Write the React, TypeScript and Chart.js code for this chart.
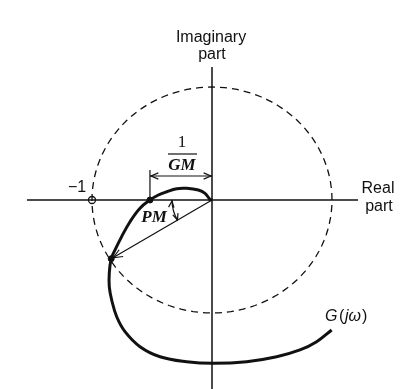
import React, { useEffect, useRef } from "react";
import { Chart, registerables } from "chart.js";

Chart.register(...registerables);

// G(jw) Nyquist curve (real, imaginary)
const curveRe = [0, -0.017, -0.058, -0.114, -0.211, -0.294, -0.378, -0.447, -0.517, -0.6, -0.683, -0.753, -0.808, -0.84, -0.856, -0.856, -0.836, -0.794, -0.725, -0.6, -0.433, -0.211, 0.011, 0.289, 0.539, 0.733, 0.872, 0.997];
const curveIm = [0, 0.006, 0.059, 0.088, 0.103, 0.1, 0.073, 0.044, 0, -0.073, -0.192, -0.324, -0.442, -0.52, -0.649, -0.767, -0.885, -1.033, -1.165, -1.298, -1.387, -1.431, -1.445, -1.431, -1.387, -1.327, -1.254, -1.15];

// key points
const minusOne = { x: -1, y: 0 };
const gmPoint = { x: -0.517, y: 0 };
const pmPoint = { x: -0.84, y: -0.52 };

// axis extents
const realAxis = [-1.542, 1.217];
const imagAxis = [1.177, -1.7];

// unit circle angles (degrees)
const circleAngles = Array.from({ length: 121 }, (_, i) => i * 3);

const BLACK = "#111";

export default function App() {
  const ref = useRef<HTMLCanvasElement | null>(null);

  useEffect(() => {
    document.body.style.margin = "0";
    const canvas = ref.current!;
    const curve = curveRe.map((x, i) => ({ x, y: curveIm[i] }));
    const circle = circleAngles.map((a) => ({
      x: Math.cos((a * Math.PI) / 180),
      y: Math.sin((a * Math.PI) / 180),
    }));

    const arrowHead = (ctx: CanvasRenderingContext2D, tx: number, ty: number, fx: number, fy: number, size: number) => {
      const ang = Math.atan2(ty - fy, tx - fx);
      ctx.beginPath();
      ctx.moveTo(tx - size * Math.cos(ang - 0.4), ty - size * Math.sin(ang - 0.4));
      ctx.lineTo(tx, ty);
      ctx.lineTo(tx - size * Math.cos(ang + 0.4), ty - size * Math.sin(ang + 0.4));
      ctx.stroke();
    };

    const annot = {
      id: "annot",
      afterDatasetsDraw(chart: any) {
        const ctx: CanvasRenderingContext2D = chart.ctx;
        const xs = chart.scales.x;
        const ys = chart.scales.y;
        const px = (v: number) => xs.getPixelForValue(v);
        const py = (v: number) => ys.getPixelForValue(v);
        const ox = px(0);
        const oy = py(0);
        ctx.save();
        ctx.strokeStyle = BLACK;
        ctx.fillStyle = BLACK;
        ctx.lineWidth = 1.2;

        // PM arrow head (origin -> PM point)
        const pmx = px(pmPoint.x);
        const pmy = py(pmPoint.y);
        arrowHead(ctx, pmx + 2, pmy - 1, ox, oy, 10);

        // GM bracket
        const gx = px(gmPoint.x);
        const barTop = oy - 30;
        const arrY = oy - 24;
        ctx.beginPath();
        ctx.moveTo(gx, oy);
        ctx.lineTo(gx, barTop);
        ctx.stroke();
        ctx.beginPath();
        ctx.moveTo(gx, arrY);
        ctx.lineTo(ox, arrY);
        ctx.stroke();
        arrowHead(ctx, gx + 1, arrY, ox, arrY, 8);
        arrowHead(ctx, ox - 1, arrY, gx, arrY, 8);

        // PM angle arc
        const lineAng = Math.atan2(pmy - oy, pmx - ox);
        const r = 40;
        ctx.beginPath();
        ctx.arc(ox, oy, r, lineAng, Math.PI);
        ctx.stroke();
        const topX = ox - r, topY = oy;
        arrowHead(ctx, topX, topY + 1, topX - 1, topY + 10, 7);
        const botX = ox + r * Math.cos(lineAng), botY = oy + r * Math.sin(lineAng);
        arrowHead(ctx, botX, botY, botX - 3, botY - 9, 7);

        // Text labels
        ctx.textAlign = "center";
        ctx.textBaseline = "middle";
        ctx.font = "16px 'Liberation Sans', Arial, sans-serif";
        ctx.fillText("Imaginary", ox - 1, 38);
        ctx.fillText("part", ox, 55);
        ctx.fillText("Real", 378, 189);
        ctx.fillText("part", 379, 207);
        ctx.fillText("\u22121", px(minusOne.x) - 15, oy - 12);

        // 1/GM fraction
        ctx.font = "17px 'Liberation Serif', 'Times New Roman', serif";
        ctx.fillText("1", 182, 143);
        ctx.beginPath();
        ctx.moveTo(168, 154);
        ctx.lineTo(197, 154);
        ctx.stroke();
        ctx.font = "italic bold 17px 'Liberation Serif', 'Times New Roman', serif";
        ctx.fillText("GM", 182, 166);
        ctx.fillText("PM", 154, 218);

        // G(jw)
        ctx.textAlign = "left";
        ctx.font = "italic 16px 'Liberation Sans', Arial, sans-serif";
        ctx.fillText("G", 325, 317);
        ctx.font = "16px 'Liberation Sans', Arial, sans-serif";
        ctx.fillText("(", 339, 317);
        ctx.font = "italic 16px 'Liberation Sans', Arial, sans-serif";
        ctx.fillText("j\u03c9", 345, 317);
        ctx.font = "16px 'Liberation Sans', Arial, sans-serif";
        ctx.fillText(")", 362, 317);
        ctx.restore();
      },
    };

    const chart = new Chart(canvas, {
      type: "scatter",
      data: {
        datasets: [
          {
            data: [{ x: realAxis[0], y: 0 }, { x: realAxis[1], y: 0 }],
            showLine: true,
            borderColor: BLACK,
            borderWidth: 1.5,
            pointRadius: 0,
          },
          {
            data: [{ x: 0, y: imagAxis[0] }, { x: 0, y: imagAxis[1] }],
            showLine: true,
            borderColor: BLACK,
            borderWidth: 1.5,
            pointRadius: 0,
          },
          {
            data: circle,
            showLine: true,
            borderColor: BLACK,
            borderWidth: 1.3,
            borderDash: [7, 5],
            pointRadius: 0,
          },
          {
            data: [{ x: 0, y: 0 }, pmPoint],
            showLine: true,
            borderColor: BLACK,
            borderWidth: 1.2,
            pointRadius: 0,
          },
          {
            data: curve,
            showLine: true,
            borderColor: BLACK,
            borderWidth: 3,
            tension: 0.4,
            pointRadius: 0,
          },
          {
            data: [gmPoint, pmPoint],
            showLine: false,
            pointRadius: 3,
            backgroundColor: BLACK,
            borderColor: BLACK,
          },
          {
            data: [minusOne],
            showLine: false,
            pointRadius: 3.5,
            backgroundColor: "#fff",
            borderColor: BLACK,
            borderWidth: 1.3,
          },
        ],
      },
      options: {
        responsive: false,
        animation: false,
        layout: { padding: 0, autoPadding: false },
        plugins: { legend: { display: false }, tooltip: { enabled: false } },
        scales: {
          x: { type: "linear", display: false, min: -212 / 120, max: 198 / 120 },
          y: { type: "linear", display: false, min: -189 / 113, max: 200 / 113 },
        },
      },
      plugins: [annot],
    });
    return () => chart.destroy();
  }, []);

  return <canvas ref={ref} width={410} height={389} style={{ display: "block" }} />;
}
